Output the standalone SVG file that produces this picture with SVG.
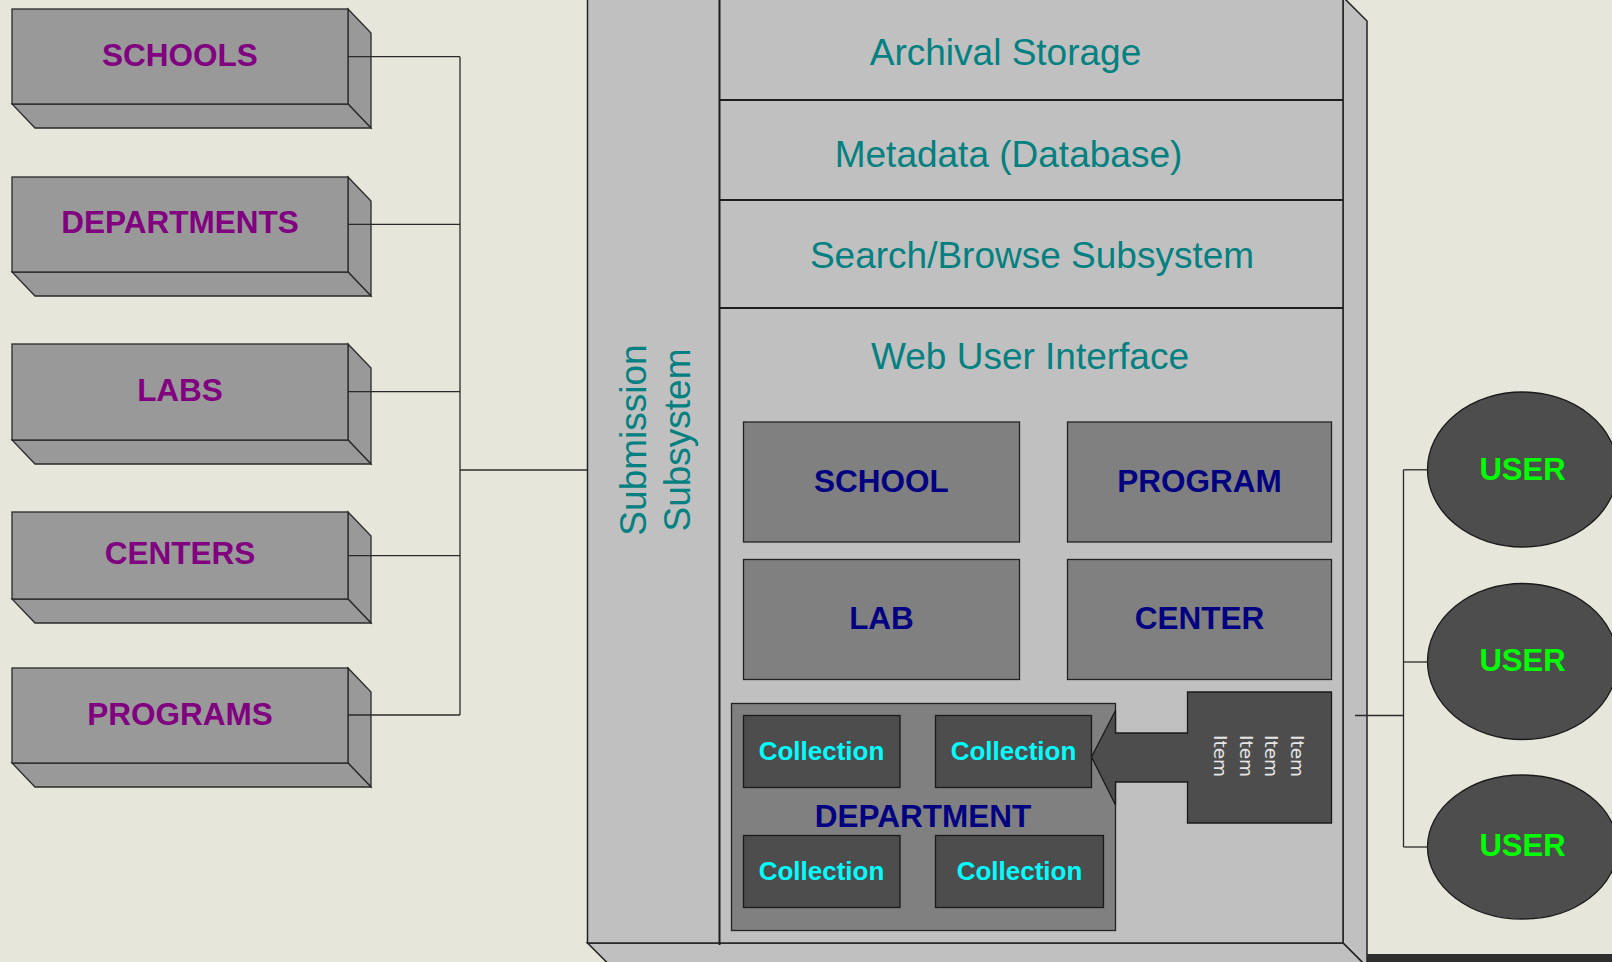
<svg xmlns="http://www.w3.org/2000/svg" width="1612" height="962" viewBox="0 0 1612 962">
<style>
.bg{fill:#e6e6da}
.box3d{fill:#999999;stroke:#2a2a2a;stroke-width:1.3}
.lbl{font-family:"Liberation Sans",Arial,sans-serif;font-weight:bold;text-anchor:middle}
.purple{fill:#800080;font-size:31.5px}
.navy{fill:#000080;font-size:31.5px}
.cyan{fill:#00ffff;font-size:26px}
.green{fill:#00ff00;font-size:31px}
.teal{font-family:"Liberation Sans",Arial,sans-serif;fill:#008080;font-size:37px;text-anchor:middle}
.big{fill:#c0c0c0;stroke:#222;stroke-width:1.5}
.div{stroke:#1e1e1e;stroke-width:2;fill:none}
.mid{fill:#808080;stroke:#222;stroke-width:1.3}
.dark{fill:#4d4d4d;stroke:#1a1a1a;stroke-width:1.3}
.conn{stroke:#2a2a2a;stroke-width:1.3;fill:none}
.item{font-family:"DejaVu Sans",Verdana,sans-serif;fill:#e6e6e6;font-size:18.5px}
</style>
<rect class="bg" x="0" y="0" width="1612" height="962"/>

<!-- left 3D boxes -->
<g id="schools">
<polygon class="box3d" points="348,9 371,33 371,128 348,104"/>
<polygon class="box3d" points="12,104 348,104 371,128 35,128"/>
<rect class="box3d" x="12" y="9" width="336" height="95"/>
<text class="lbl purple" x="180" y="65.7">SCHOOLS</text>
</g>
<g id="departments">
<polygon class="box3d" points="348,177 371,201 371,296 348,272"/>
<polygon class="box3d" points="12,272 348,272 371,296 35,296"/>
<rect class="box3d" x="12" y="177" width="336" height="95"/>
<text class="lbl purple" x="180" y="233.3">DEPARTMENTS</text>
</g>
<g id="labs">
<polygon class="box3d" points="348,344 371,368 371,464 348,440"/>
<polygon class="box3d" points="12,440 348,440 371,464 35,464"/>
<rect class="box3d" x="12" y="344" width="336" height="96"/>
<text class="lbl purple" x="180" y="401">LABS</text>
</g>
<g id="centers">
<polygon class="box3d" points="348,512 371,536 371,623 348,599"/>
<polygon class="box3d" points="12,599 348,599 371,623 35,623"/>
<rect class="box3d" x="12" y="512" width="336" height="87"/>
<text class="lbl purple" x="180" y="564.3">CENTERS</text>
</g>
<g id="programs">
<polygon class="box3d" points="348,668 371,692 371,787 348,763"/>
<polygon class="box3d" points="12,763 348,763 371,787 35,787"/>
<rect class="box3d" x="12" y="668" width="336" height="95"/>
<text class="lbl purple" x="180" y="725">PROGRAMS</text>
</g>

<!-- main system box -->
<g id="system">
<polygon class="big" points="1343,-3 1367,21 1367,967 1343,943"/>
<polygon class="big" points="587.5,943 1343,943 1367,967 611.5,967"/>
<rect class="big" x="587.5" y="-3" width="755.5" height="946"/>
<line class="div" x1="719.5" y1="-3" x2="719.5" y2="945"/>
<line class="div" x1="719.5" y1="100" x2="1343" y2="100"/>
<line class="div" x1="719.5" y1="200" x2="1343" y2="200"/>
<line class="div" x1="719.5" y1="308" x2="1343" y2="308"/>
</g>
<g id="submission">
<text class="teal" transform="translate(646,440) rotate(-90)">Submission</text>
<text class="teal" transform="translate(690,440) rotate(-90)">Subsystem</text>
</g>
<g id="archival"><text class="teal" x="1005.5" y="65">Archival Storage</text></g>
<g id="metadata"><text class="teal" x="1008.5" y="166.5">Metadata (Database)</text></g>
<g id="search"><text class="teal" x="1032" y="268">Search/Browse Subsystem</text></g>
<g id="webui"><text class="teal" x="1030" y="369">Web User Interface</text></g>

<g id="school"><rect class="mid" x="743.5" y="422" width="276" height="120"/><text class="lbl navy" x="881.5" y="491.5">SCHOOL</text></g>
<g id="program"><rect class="mid" x="1067.5" y="422" width="264" height="120"/><text class="lbl navy" x="1199.5" y="491.5">PROGRAM</text></g>
<g id="lab"><rect class="mid" x="743.5" y="559.5" width="276" height="120"/><text class="lbl navy" x="881.5" y="629">LAB</text></g>
<g id="center"><rect class="mid" x="1067.5" y="559.5" width="264" height="120"/><text class="lbl navy" x="1199.5" y="629">CENTER</text></g>

<g id="department">
<rect class="mid" x="731.5" y="703.5" width="384" height="227"/>
<text class="lbl navy" x="923" y="826.7">DEPARTMENT</text>
</g>
<g id="collection1"><rect class="dark" x="743.5" y="715.5" width="156.5" height="72"/><text class="lbl cyan" x="821.5" y="760">Collection</text></g>
<g id="collection2"><rect class="dark" x="935.5" y="715.5" width="156" height="72"/><text class="lbl cyan" x="1013.5" y="760">Collection</text></g>
<g id="collection3"><rect class="dark" x="743.5" y="835.5" width="156.5" height="72"/><text class="lbl cyan" x="821.5" y="880">Collection</text></g>
<g id="collection4"><rect class="dark" x="935.5" y="835.5" width="168" height="72"/><text class="lbl cyan" x="1019.5" y="880">Collection</text></g>

<g id="items">
<path class="dark" d="M1187.5,692 H1331.5 V823 H1187.5 V782 H1115.5 V805 L1091.5,757 L1115.5,710.5 V733 H1187.5 Z"/>
<text class="item" transform="translate(1213.5,735) rotate(90)">Item</text>
<text class="item" transform="translate(1239.5,735) rotate(90)">Item</text>
<text class="item" transform="translate(1265.2,735) rotate(90)">Item</text>
<text class="item" transform="translate(1290.5,735) rotate(90)">Item</text>
</g>

<!-- users -->
<g id="user1"><ellipse class="dark" cx="1522.5" cy="469.5" rx="95" ry="77.5"/><text class="lbl green" x="1522.5" y="479.5">USER</text></g>
<g id="user2"><ellipse class="dark" cx="1522.5" cy="661.5" rx="95" ry="78"/><text class="lbl green" x="1522.5" y="671.4">USER</text></g>
<g id="user3"><ellipse class="dark" cx="1522.5" cy="847" rx="95" ry="72"/><text class="lbl green" x="1522.5" y="856.2">USER</text></g>

<rect x="1367" y="954" width="245" height="8" fill="#2e2e2e"/>

<g id="connectors">
<line class="conn" x1="348" y1="56.7" x2="460" y2="56.7"/>
<line class="conn" x1="348" y1="224.3" x2="460" y2="224.3"/>
<line class="conn" x1="348" y1="391.7" x2="460" y2="391.7"/>
<line class="conn" x1="348" y1="555.7" x2="460" y2="555.7"/>
<line class="conn" x1="348" y1="715" x2="460" y2="715"/>
<line class="conn" x1="460" y1="56.7" x2="460" y2="715"/>
<line class="conn" x1="460" y1="470" x2="587.5" y2="470"/>
<line class="conn" x1="1355" y1="715.5" x2="1403.5" y2="715.5"/>
<line class="conn" x1="1403.5" y1="469.8" x2="1403.5" y2="847"/>
<line class="conn" x1="1403.5" y1="469.8" x2="1428" y2="469.8"/>
<line class="conn" x1="1403.5" y1="662" x2="1428" y2="662"/>
<line class="conn" x1="1403.5" y1="847" x2="1428" y2="847"/>
</g>
</svg>
